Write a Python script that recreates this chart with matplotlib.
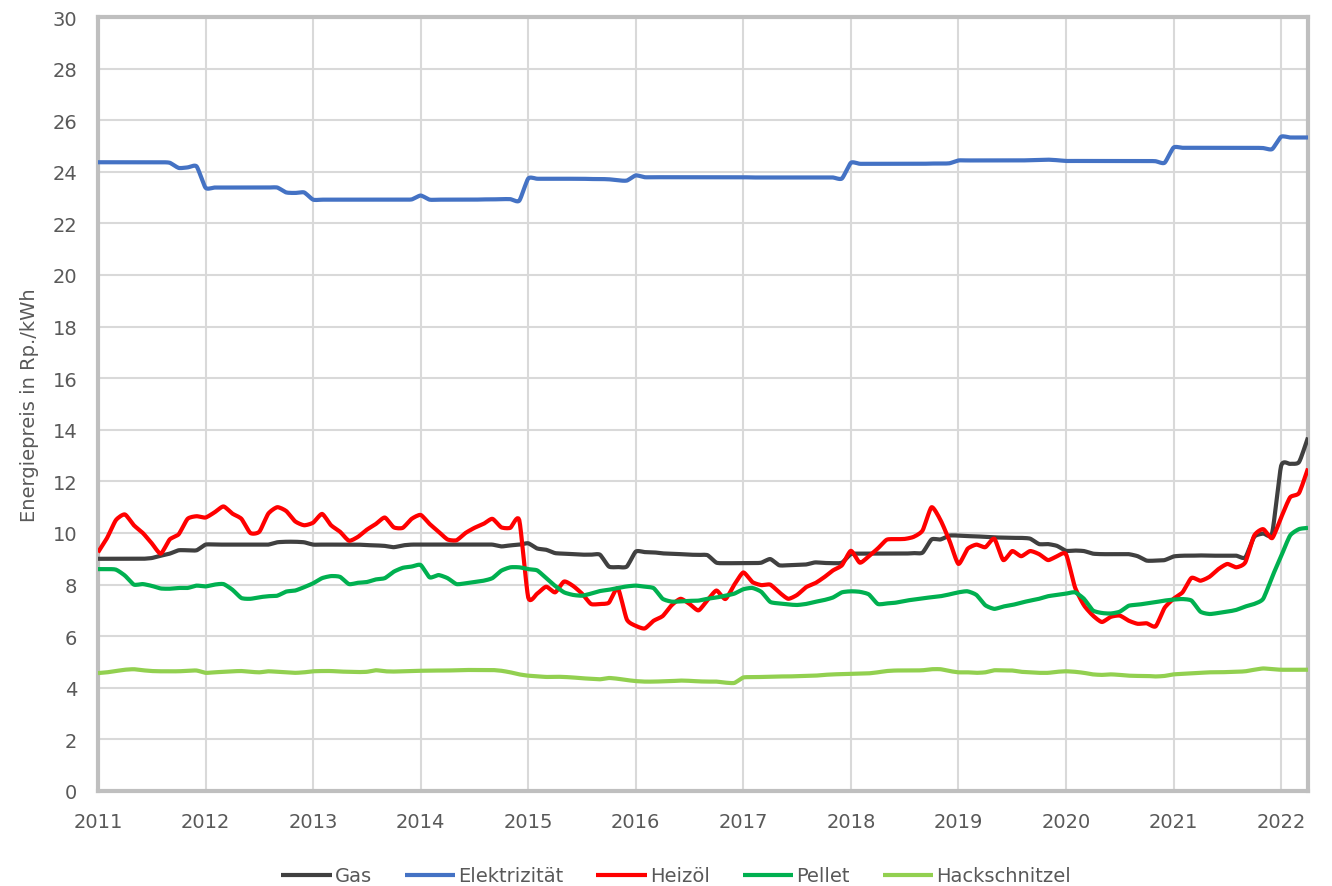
import numpy as np
import matplotlib
matplotlib.use("Agg")
import matplotlib.pyplot as plt

# Monthly prices in Rp./kWh, January 2011 to April 2022
start_year = 2011
n_months = 136

gas = [
    9.0, 9.0, 9.0, 9.0, 9.0, 9.0, 9.03, 9.12, 9.2, 9.33, 9.33, 9.33,
    9.55, 9.55, 9.55, 9.55, 9.55, 9.55, 9.55, 9.55, 9.64, 9.66, 9.66, 9.64,
    9.55, 9.55, 9.55, 9.55, 9.55, 9.55, 9.53, 9.52, 9.5, 9.45, 9.52, 9.55,
    9.55, 9.55, 9.55, 9.55, 9.55, 9.55, 9.55, 9.55, 9.55, 9.48, 9.52, 9.55,
    9.6, 9.4, 9.35, 9.22, 9.2, 9.18, 9.16, 9.16, 9.16, 8.7, 8.68, 8.7,
    9.28, 9.26, 9.25, 9.21, 9.2, 9.18, 9.16, 9.15, 9.14, 8.85, 8.83, 8.83,
    8.83, 8.83, 8.85, 8.99, 8.75, 8.75, 8.76, 8.78, 8.86, 8.84, 8.83, 8.85,
    9.18, 9.2, 9.2, 9.2, 9.2, 9.2, 9.2, 9.22, 9.24, 9.75, 9.75, 9.9,
    9.9, 9.88, 9.87, 9.85, 9.83, 9.82, 9.81, 9.81, 9.78, 9.57, 9.57, 9.5,
    9.31, 9.32, 9.3, 9.2, 9.18, 9.18, 9.18, 9.18, 9.1, 8.93, 8.93, 8.95,
    9.09, 9.12, 9.12, 9.13, 9.12, 9.12, 9.12, 9.12, 9.05, 9.85, 9.98, 10.0,
    12.6, 12.68, 12.75, 13.7,
]

elektrizitaet = [
    24.37, 24.37, 24.37, 24.37, 24.37, 24.37, 24.37, 24.37, 24.35, 24.15, 24.17, 24.21,
    23.38, 23.39, 23.39, 23.39, 23.39, 23.39, 23.39, 23.39, 23.39, 23.2, 23.18, 23.2,
    22.92, 22.92, 22.92, 22.92, 22.92, 22.92, 22.92, 22.92, 22.92, 22.92, 22.92, 22.93,
    23.08, 22.92, 22.92, 22.92, 22.92, 22.92, 22.92, 22.93, 22.93, 22.94, 22.94, 22.88,
    23.74, 23.73, 23.73, 23.73, 23.73, 23.73, 23.73, 23.72, 23.72, 23.71, 23.67, 23.66,
    23.86, 23.79, 23.79, 23.79, 23.79, 23.79, 23.79, 23.79, 23.79, 23.79, 23.79, 23.79,
    23.79, 23.78, 23.78, 23.78, 23.78, 23.78, 23.78, 23.78, 23.78, 23.78, 23.78, 23.74,
    24.35, 24.31, 24.31, 24.31, 24.31, 24.31, 24.31, 24.31, 24.31, 24.32, 24.32, 24.33,
    24.44, 24.44, 24.44, 24.44, 24.44, 24.44, 24.44, 24.44, 24.45, 24.46, 24.47, 24.45,
    24.42, 24.42, 24.42, 24.42, 24.42, 24.42, 24.42, 24.42, 24.42, 24.42, 24.41, 24.35,
    24.94, 24.93, 24.93, 24.93, 24.93, 24.93, 24.93, 24.93, 24.93, 24.93, 24.92, 24.88,
    25.36, 25.33, 25.33, 25.33,
]

heizoel = [
    9.25, 9.8, 10.5, 10.72, 10.3, 10.0, 9.6, 9.2, 9.75, 9.95, 10.55, 10.65,
    10.6, 10.8, 11.03, 10.75, 10.55, 10.0, 10.05, 10.75, 11.0, 10.85, 10.45, 10.3,
    10.4, 10.74, 10.3, 10.05, 9.7, 9.85, 10.13, 10.35, 10.6, 10.22, 10.2, 10.55,
    10.7, 10.35, 10.05, 9.75, 9.72, 10.0, 10.2, 10.35, 10.55, 10.22, 10.2, 10.5,
    7.5, 7.65, 7.92, 7.7, 8.12, 7.95, 7.65, 7.25, 7.25, 7.3, 7.86, 6.65,
    6.4, 6.3, 6.6, 6.78, 7.2, 7.45, 7.25, 7.0, 7.4, 7.77, 7.44, 8.0,
    8.47, 8.1, 7.98, 8.0, 7.7, 7.45, 7.6, 7.9, 8.05, 8.28, 8.55, 8.75,
    9.31, 8.85, 9.1, 9.4, 9.74, 9.76, 9.77, 9.85, 10.1, 11.0, 10.5, 9.7,
    8.8, 9.38, 9.55, 9.45, 9.78, 8.95, 9.3, 9.1, 9.3, 9.18, 8.95, 9.1,
    9.18, 7.9, 7.2, 6.8, 6.55, 6.75, 6.8, 6.6, 6.48, 6.5, 6.38, 7.1,
    7.45, 7.7, 8.26, 8.15, 8.3, 8.6, 8.8, 8.67, 8.86, 9.9, 10.15, 9.8,
    10.6, 11.38, 11.55, 12.5,
]

pellet = [
    8.6, 8.6, 8.58, 8.35, 8.0, 8.02, 7.95, 7.85, 7.84, 7.87, 7.87, 7.96,
    7.93, 8.0, 8.02, 7.8, 7.48, 7.45, 7.51, 7.55, 7.57, 7.73, 7.77, 7.9,
    8.05, 8.25, 8.33, 8.3, 8.02, 8.07, 8.1, 8.2, 8.25, 8.5, 8.65, 8.7,
    8.76, 8.28, 8.37, 8.25, 8.02, 8.05, 8.1, 8.15, 8.25, 8.54, 8.67, 8.67,
    8.6, 8.55, 8.25, 7.95, 7.7, 7.6, 7.57, 7.65, 7.75, 7.8, 7.87, 7.93,
    7.96, 7.92, 7.86, 7.45, 7.34, 7.35, 7.37, 7.38, 7.45, 7.5, 7.57, 7.65,
    7.82, 7.87, 7.72, 7.33, 7.27, 7.23, 7.21, 7.25, 7.33, 7.4, 7.5, 7.7,
    7.74, 7.72, 7.62, 7.25, 7.27, 7.3, 7.37, 7.42, 7.47, 7.51, 7.55, 7.62,
    7.7, 7.74, 7.6, 7.2, 7.06, 7.15, 7.21, 7.3, 7.38, 7.45, 7.55, 7.6,
    7.65, 7.7, 7.45, 7.0, 6.9, 6.88, 6.95, 7.18, 7.22, 7.27, 7.32, 7.38,
    7.42, 7.44, 7.38, 6.95, 6.86, 6.9, 6.95, 7.02, 7.15, 7.25, 7.45, 8.3,
    9.1, 9.9, 10.15, 10.2,
]

hackschnitzel = [
    4.57, 4.6, 4.65, 4.7, 4.72, 4.68, 4.65, 4.64, 4.64, 4.64, 4.66, 4.67,
    4.58, 4.6, 4.62, 4.64, 4.65, 4.62, 4.6, 4.64, 4.62, 4.6, 4.58, 4.6,
    4.64, 4.65, 4.65, 4.63, 4.62, 4.61, 4.62, 4.68, 4.64, 4.63, 4.64, 4.65,
    4.66, 4.66, 4.67, 4.67, 4.68, 4.69, 4.69, 4.69, 4.69, 4.66, 4.6, 4.52,
    4.47, 4.45, 4.42, 4.43, 4.42, 4.4, 4.37, 4.35, 4.33, 4.38, 4.35, 4.3,
    4.26, 4.24, 4.24, 4.25, 4.26, 4.28, 4.27, 4.25, 4.24, 4.24, 4.2, 4.19,
    4.4, 4.41, 4.42, 4.43, 4.44, 4.44, 4.45, 4.46, 4.47, 4.5, 4.52, 4.53,
    4.54, 4.55, 4.56, 4.6, 4.65, 4.67, 4.67, 4.67, 4.68, 4.72, 4.72, 4.65,
    4.6, 4.6, 4.58, 4.6, 4.68, 4.67, 4.67, 4.62, 4.6, 4.58, 4.58, 4.62,
    4.64, 4.62, 4.58, 4.52, 4.5, 4.52, 4.5, 4.47, 4.46, 4.46, 4.44, 4.46,
    4.52, 4.54, 4.56, 4.58, 4.6, 4.6, 4.61, 4.62, 4.64, 4.7, 4.75, 4.72,
    4.7, 4.7, 4.7, 4.7,
]

series_names = ["Gas", "Elektrizität", "Heizöl", "Pellet", "Hackschnitzel"]
series_values = [gas, elektrizitaet, heizoel, pellet, hackschnitzel]
series_colors = ["#404040", "#4472C4", "#FF0000", "#00B050", "#92D050"]

year_ticks = list(range(2011, 2023))
y_ticks = list(range(0, 31, 2))

months = start_year + np.arange(n_months) / 12.0


def smooth_path(x, y, steps=8, tension=0.6):
    """Cardinal spline through every point, like a smoothed spreadsheet line."""
    x = np.asarray(x, float)
    y = np.asarray(y, float)
    def tangents(v):
        m = np.empty_like(v)
        m[1:-1] = (v[2:] - v[:-2]) / 2
        m[0] = v[1] - v[0]
        m[-1] = v[-1] - v[-2]
        return m * tension
    mx, my = tangents(x), tangents(y)
    t = np.linspace(0, 1, steps, endpoint=False)
    h00 = 2 * t**3 - 3 * t**2 + 1
    h10 = t**3 - 2 * t**2 + t
    h01 = -2 * t**3 + 3 * t**2
    h11 = t**3 - t**2
    xs, ys = [], []
    for i in range(len(x) - 1):
        xs.append(h00 * x[i] + h10 * mx[i] + h01 * x[i + 1] + h11 * mx[i + 1])
        ys.append(h00 * y[i] + h10 * my[i] + h01 * y[i + 1] + h11 * my[i + 1])
    xs.append([x[-1]])
    ys.append([y[-1]])
    return np.concatenate(xs), np.concatenate(ys)


plt.rcParams["font.family"] = ["DejaVu Sans"]
text_color = "#595959"

fig = plt.figure(figsize=(13.32, 8.87), dpi=100)
ax = fig.add_axes([98 / 1332, 1 - 792 / 887, (1308 - 98) / 1332, (792 - 18) / 887])

for name, vals, col in zip(series_names, series_values, series_colors):
    sx, sy = smooth_path(months, vals)
    ax.plot(sx, sy, color=col, lw=3.0, label=name,
            solid_joinstyle="round", solid_capstyle="butt", zorder=3)

ax.set_xlim(2011, 2022.25)
ax.set_ylim(0, 30)
ax.set_xticks(year_ticks)
ax.set_yticks(y_ticks)
ax.grid(True, color="#d9d9d9", lw=1.5, zorder=0)
ax.set_axisbelow(True)
for sp in ax.spines.values():
    sp.set_color("#bfbfbf")
    sp.set_linewidth(3)
ax.tick_params(length=0, labelsize=14, colors=text_color)
ax.tick_params(axis="x", pad=15)
ax.tick_params(axis="y", pad=15)
ax.set_ylabel("Energiepreis in Rp./kWh", fontsize=14, color=text_color,
              va="center")
ax.yaxis.set_label_coords(-68 / 1210, 0.5)

fig.legend(loc="center", bbox_to_anchor=(676 / 1332, 1 - 877 / 887), ncol=5,
           frameon=False, fontsize=14, handlelength=2.6, handletextpad=0.15,
           columnspacing=1.7, labelcolor=text_color)

fig.savefig("out.png", dpi=100)
